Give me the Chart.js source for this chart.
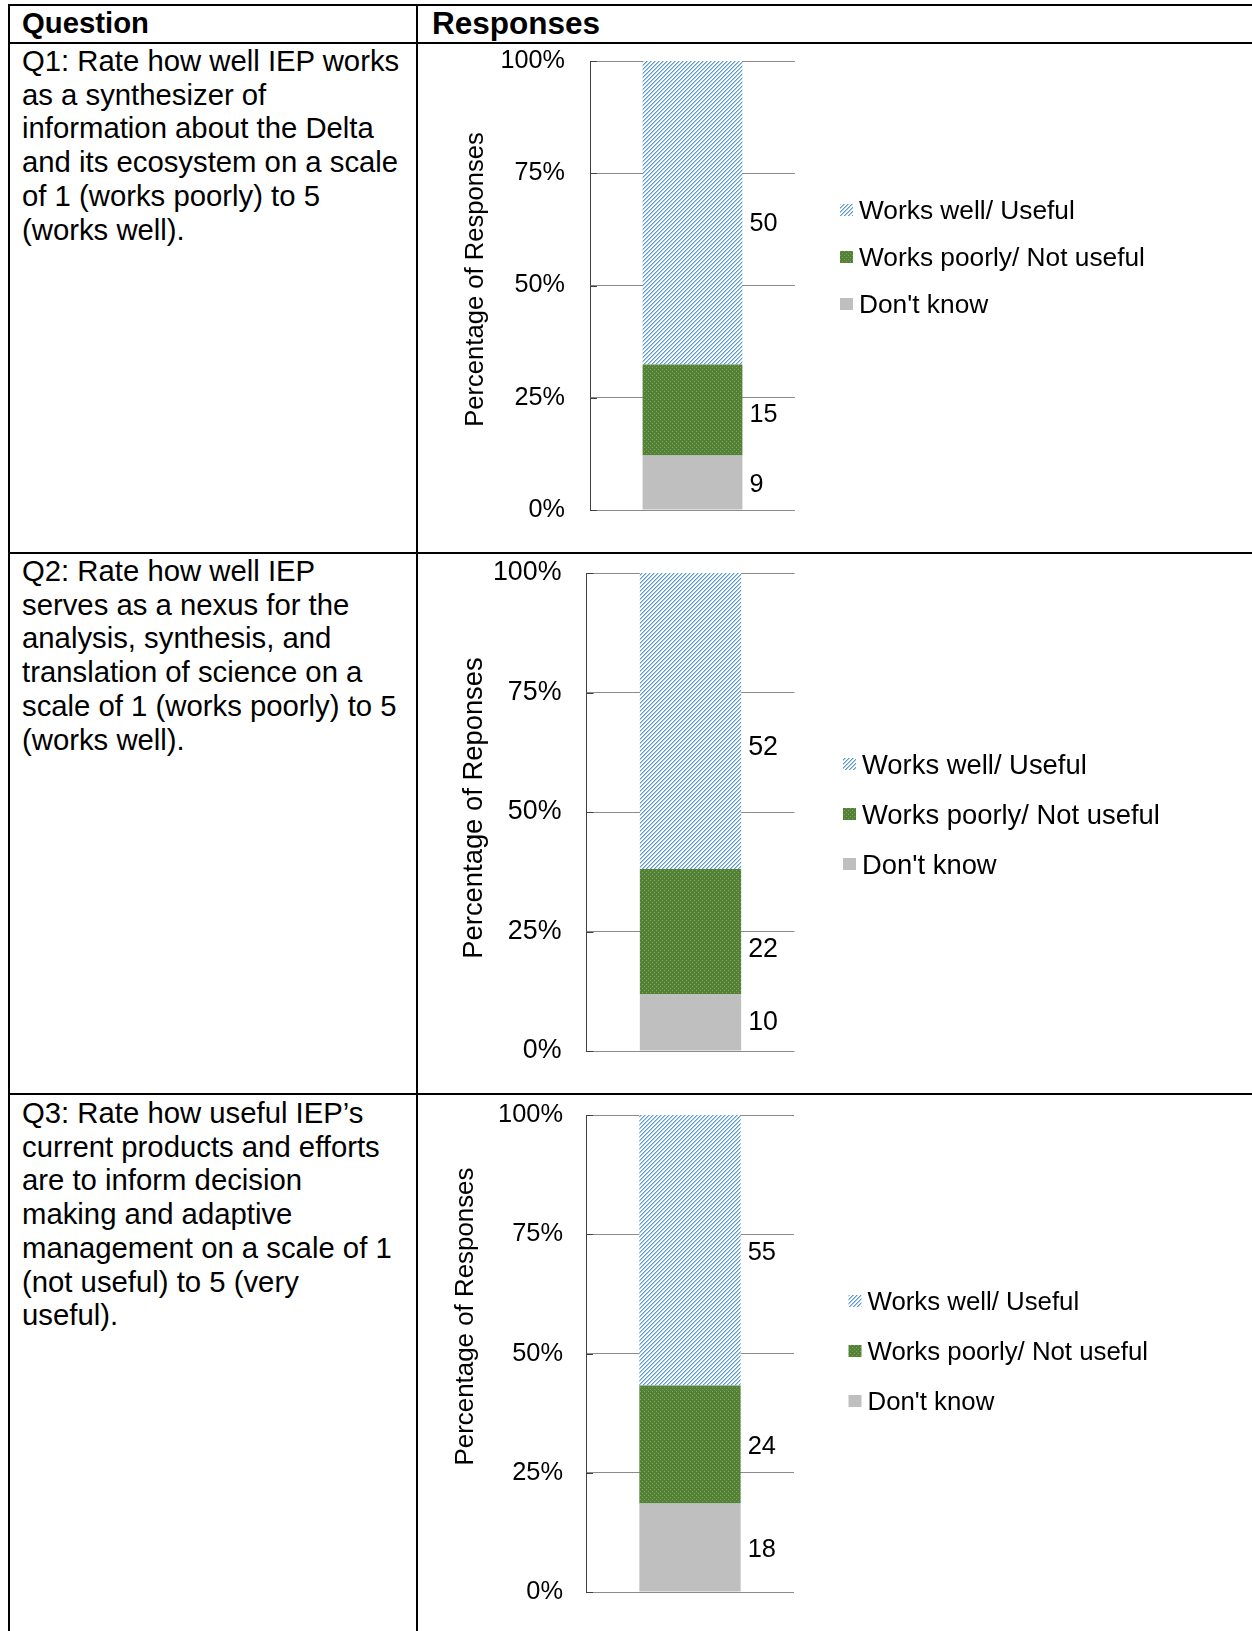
<!DOCTYPE html>
<html>
<head>
<meta charset="utf-8">
<title>IEP survey - responses by question</title>
<script src="https://cdn.jsdelivr.net/npm/chart.js@4.4.1/dist/chart.umd.min.js"></script>
<style>
  html, body { margin: 0; padding: 0; background: #fff; }
  body {
    width: 1252px; height: 1631px; position: relative; overflow: hidden;
    font-family: "Liberation Sans", Arial, sans-serif; color: #000;
  }
  .rule { position: absolute; background: #000; z-index: 3; }
  .cell { position: absolute; font-size: 29.3px; line-height: 33.7px; white-space: nowrap; }
  .head { font-weight: bold; }
  canvas { position: absolute; z-index: 1; }
</style>
</head>
<body>

<!-- table rules -->
<div class="rule" style="left:8px;top:4px;width:1244px;height:2px"></div>
<div class="rule" style="left:8px;top:42px;width:1244px;height:2px"></div>
<div class="rule" style="left:8px;top:552px;width:1244px;height:2px"></div>
<div class="rule" style="left:8px;top:1093px;width:1244px;height:2px"></div>
<div class="rule" style="left:8px;top:4px;width:2px;height:1627px"></div>
<div class="rule" style="left:416px;top:4px;width:2px;height:1627px"></div>

<div class="cell head" style="left:22px;top:6px">Question</div>
<div class="cell head" style="left:432px;top:7px;font-size:31.5px">Responses</div>
<div class="cell" id="q0" style="left:22px;top:44px"></div>
<div class="cell" id="q1" style="left:22px;top:554px"></div>
<div class="cell" id="q2" style="left:22px;top:1096px"></div>

<canvas id="chart0"></canvas>
<canvas id="chart1"></canvas>
<canvas id="chart2"></canvas>

<script>
'use strict';

// ---- data -----------------------------------------------------------
var questions = ['Q1', 'Q2', 'Q3'];
var questionText = [
    ['Q1: Rate how well IEP works', 'as a synthesizer of', 'information about the Delta',
     'and its ecosystem on a scale', 'of 1 (works poorly) to 5', '(works well).'],
    ['Q2: Rate how well IEP', 'serves as a nexus for the', 'analysis, synthesis, and',
     'translation of science on a', 'scale of 1 (works poorly) to 5', '(works well).'],
    ['Q3: Rate how useful IEP\u2019s', 'current products and efforts', 'are to inform decision',
     'making and adaptive', 'management on a scale of 1', '(not useful) to 5 (very', 'useful).']
];
var seriesNames = ["Don't know", 'Works poorly/ Not useful', 'Works well/ Useful'];
var dontKnow = [9, 10, 18];
var worksPoorly = [15, 22, 24];
var worksWell = [50, 52, 55];
var tickLabels = ['0%', '25%', '50%', '75%', '100%'];
var axisTitles = ['Percentage of Responses', 'Percentage of Reponses', 'Percentage of Responses'];

// ---- layout of each response panel (page pixels) --------------------
var FONT = '"Liberation Sans", Arial, sans-serif';
var panels = [
    {areaTop: 61, areaBottom: 510, areaLeft: 590, areaRight: 795,
     titleX: 476, titleShift: -6, titleFont: 25.6,
     tickFont: 25.2, tickPad: 25, labelNudge: [1, 3, 9],
     legendFont: 26.3, legendGap: 45, legendShift: -28.5, legendStep: 47},
    {areaTop: 573, areaBottom: 1051, areaLeft: 586.5, areaRight: 794.5,
     titleX: 474, titleShift: -4, titleFont: 27.4,
     tickFont: 26.8, tickPad: 25, labelNudge: [-2, 16, 24],
     legendFont: 27.4, legendGap: 48.5, legendShift: 2, legendStep: 50},
    {areaTop: 1115, areaBottom: 1592, areaLeft: 586, areaRight: 794,
     titleX: 466, titleShift: -37, titleFont: 25.9,
     tickFont: 25.4, tickPad: 23, labelNudge: [0, 0, 1],
     legendFont: 25.8, legendGap: 54.5, legendShift: -2.5, legendStep: 50}
];
var CANVAS_LEFT = 420;
var PAGE_WIDTH = 1252;

/**
 * Build a small repeating fill from a pixel painter
 */
function makePattern(size, paint) {
    var c = document.createElement('canvas');
    c.width = size;
    c.height = size;
    var g = c.getContext('2d');
    paint(g, size);
    return g.createPattern(c, 'repeat');
}

// light upward diagonal, blue on white
var bluePattern = makePattern(4, function(g, n) {
    g.fillStyle = '#ffffff';
    g.fillRect(0, 0, n, n);
    for (var x = 0; x < n; x++) {
        for (var y = 0; y < n; y++) {
            var k = (x + y) % 4;
            if (k === 0) { g.fillStyle = '#5b9bd5'; g.fillRect(x, y, 1, 1); }
            else if (k === 1) { g.fillStyle = '#a9c9ec'; g.fillRect(x, y, 1, 1); }
        }
    }
});

// dark green with a fine dot grid
var greenPattern = makePattern(4, function(g, n) {
    g.fillStyle = '#538135';
    g.fillRect(0, 0, n, n);
    g.fillStyle = '#7fa560';
    g.fillRect(0, 0, 1, 1);
    g.fillRect(2, 2, 1, 1);
});

var seriesFills = ['#bfbfbf', greenPattern, bluePattern];

/**
 * Count labels to the right of each stacked segment
 */
var countLabels = {
    id: 'countLabels',
    afterDatasetsDraw: function(chart, args, opts) {
        var ctx = chart.ctx;
        ctx.save();
        ctx.font = opts.fontSize + 'px ' + FONT;
        ctx.fillStyle = '#000';
        ctx.textAlign = 'left';
        ctx.textBaseline = 'alphabetic';
        chart.data.datasets.forEach(function(ds, di) {
            chart.getDatasetMeta(di).data.forEach(function(bar, i) {
                var p = bar.getProps(['x', 'y', 'base', 'width'], true);
                var midY = (p.y + p.base) / 2 + opts.nudge[di];
                ctx.fillText(String(ds.counts[i]), p.x + p.width / 2 + 7, midY + opts.fontSize * 0.358);
            });
        });
        ctx.restore();
    }
};

/**
 * Short dark tick marks on the inside of the value axis
 */
var insideTicks = {
    id: 'insideTicks',
    beforeDatasetsDraw: function(chart) {
        var scale = chart.scales.y;
        var ctx = chart.ctx;
        ctx.save();
        ctx.strokeStyle = '#404040';
        ctx.lineWidth = 1;
        scale.ticks.forEach(function(t) {
            var y = Math.round(scale.getPixelForValue(t.value)) + 0.5;
            ctx.beginPath();
            ctx.moveTo(chart.chartArea.left, y);
            ctx.lineTo(chart.chartArea.left + 7, y);
            ctx.stroke();
        });
        ctx.restore();
    }
};

/**
 * Rotated value-axis title, placed beside the tick labels
 */
var axisTitle = {
    id: 'axisTitle',
    afterDraw: function(chart, args, opts) {
        var area = chart.chartArea;
        var ctx = chart.ctx;
        ctx.save();
        ctx.translate(opts.x, (area.top + area.bottom) / 2 + opts.shift);
        ctx.rotate(-Math.PI / 2);
        ctx.font = opts.fontSize + 'px ' + FONT;
        ctx.fillStyle = '#000';
        ctx.textAlign = 'center';
        ctx.textBaseline = 'middle';
        ctx.fillText(opts.text, 0, 0);
        ctx.restore();
    }
};

/**
 * Legend to the right of the plot, top series first
 */
var sideLegend = {
    id: 'sideLegend',
    afterDraw: function(chart, args, opts) {
        var ctx = chart.ctx;
        var area = chart.chartArea;
        var sets = chart.data.datasets.slice().reverse();
        var x = area.right + opts.gap;
        var cy = (area.top + area.bottom) / 2 + opts.shift;
        var y0 = cy - (sets.length - 1) / 2 * opts.step;
        ctx.save();
        ctx.font = opts.fontSize + 'px ' + FONT;
        ctx.textBaseline = 'alphabetic';
        sets.forEach(function(ds, i) {
            var y = y0 + i * opts.step;
            ctx.fillStyle = ds.backgroundColor;
            ctx.fillRect(x, Math.round(y - 6), 13, 12);
            ctx.fillStyle = '#000';
            ctx.fillText(ds.label, x + 19, y + opts.fontSize * 0.358);
        });
        ctx.restore();
    }
};

/**
 * Draw one 100% stacked column for question q
 */
function drawPanel(q) {
    var p = panels[q];
    var counts = [dontKnow[q], worksPoorly[q], worksWell[q]];
    var total = counts.reduce(function(a, b) { return a + b; }, 0);

    // the value axis box is tick labels plus padding on both sides
    var probe = document.createElement('canvas').getContext('2d');
    probe.font = p.tickFont + 'px ' + FONT;
    var widest = Math.max.apply(null, tickLabels.map(function(t) { return probe.measureText(t).width; }));
    var axisLeft = p.areaLeft - (widest + 2 * p.tickPad);

    // it also reserves half a label plus its padding above and below
    var vPad = Math.ceil(p.tickFont * 1.2 / 2 + p.tickPad) + 1;
    var top = p.areaTop - vPad;

    var canvas = document.getElementById('chart' + q);
    canvas.width = PAGE_WIDTH - CANVAS_LEFT;
    canvas.height = (p.areaBottom + vPad) - top;
    canvas.style.left = CANVAS_LEFT + 'px';
    canvas.style.top = top + 'px';

    var datasets = seriesNames.map(function(name, s) {
        return {
            label: name,
            data: [counts[s] / total * 100],
            counts: [counts[s]],
            backgroundColor: seriesFills[s],
            borderWidth: 0,
            barPercentage: 0.487,
            categoryPercentage: 1
        };
    });

    new Chart(canvas.getContext('2d'), {
        type: 'bar',
        data: { labels: [questions[q]], datasets: datasets },
        options: {
            responsive: false,
            animation: false,
            layout: {
                padding: {
                    left: axisLeft - CANVAS_LEFT,
                    top: vPad,
                    bottom: vPad,
                    right: PAGE_WIDTH - p.areaRight
                }
            },
            scales: {
                x: { stacked: true, display: false },
                y: {
                    stacked: true,
                    min: 0,
                    max: 100,
                    border: { display: true, color: '#404040', width: 1 },
                    grid: { color: '#8c8c8c', lineWidth: 1, drawTicks: false },
                    ticks: {
                        stepSize: 25,
                        padding: p.tickPad,
                        color: '#000',
                        font: { size: p.tickFont },
                        callback: function(value, index) { return tickLabels[index]; }
                    },
                    title: { display: false }
                }
            },
            plugins: {
                legend: { display: false },
                tooltip: { enabled: false },
                countLabels: { fontSize: p.tickFont, nudge: p.labelNudge },
                axisTitle: { text: axisTitles[q], fontSize: p.titleFont, x: p.titleX - CANVAS_LEFT, shift: p.titleShift },
                sideLegend: { fontSize: p.legendFont, gap: p.legendGap, shift: p.legendShift, step: p.legendStep }
            }
        },
        plugins: [insideTicks, countLabels, axisTitle, sideLegend]
    });
}

Chart.defaults.font.family = FONT;
questionText.forEach(function(lines, q) {
    document.getElementById('q' + q).innerHTML = lines.join('<br>');
});
for (var q = 0; q < questions.length; q++) {
    drawPanel(q);
}
</script>
</body>
</html>
